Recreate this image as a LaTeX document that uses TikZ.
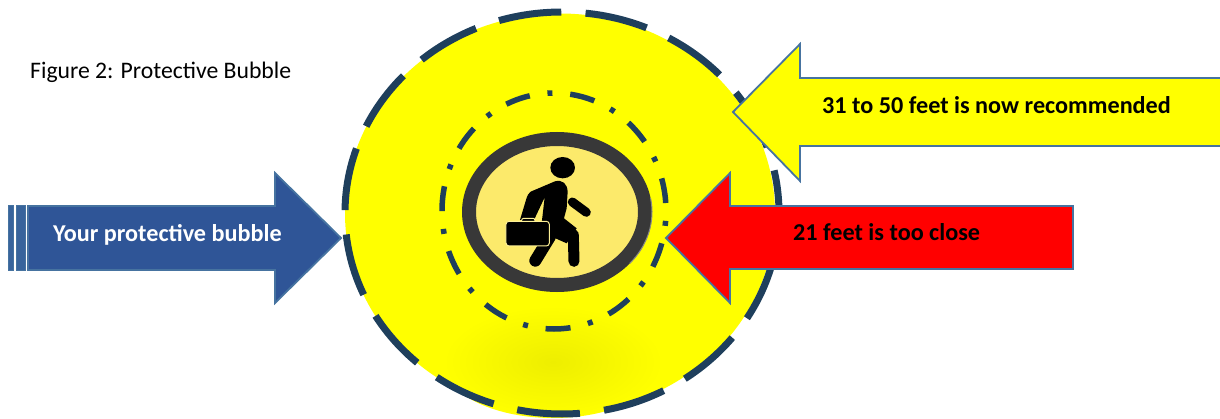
\documentclass[tikz,border=0pt]{standalone}
\usepackage{fontspec}
\setmainfont{Carlito}
\usepackage{tikz}
\definecolor{bubbleyellow}{RGB}{255,255,0}
\definecolor{bubbleglow}{RGB}{238,238,0}
\definecolor{bubbledash}{RGB}{31,63,92}
\definecolor{arrowblue}{RGB}{47,85,151}
\definecolor{arrowedge}{RGB}{70,115,160}
\definecolor{stripeblue}{RGB}{56,100,156}
\definecolor{signring}{RGB}{56,56,56}
\definecolor{signface}{RGB}{252,234,107}
\definecolor{arrowred}{RGB}{255,0,0}
\pgfdeclareradialshading{ringglow}{\pgfpointorigin}{color(0bp)=(bubbleyellow); color(34bp)=(bubbleyellow); color(40bp)=(bubbleglow!60!bubbleyellow); color(50bp)=(bubbleyellow)}
\begin{document}
\begin{tikzpicture}[x=1pt,y=1pt,
  arrowline/.style={draw=arrowedge, line width=1.8pt, miter limit=10},
  stripe/.style={draw=arrowedge, line width=1pt, fill=stripeblue},
  label/.style={font=\fontsize{24.2}{28}\selectfont\bfseries, anchor=base west, inner sep=0pt},
  bigring/.style={draw=bubbledash, line width=7pt, dash pattern=on 63pt off 24.3pt, dash phase=20pt},
  smallring/.style={draw=bubbledash, line width=5.5pt, dash pattern=on 25pt off 17.85pt on 5pt off 17.85pt, dash phase=57.7pt}]
\useasboundingbox (0,0) rectangle (1220,418);
% bubble
\fill[bubbleyellow] (560,204.5) ellipse [x radius=215, y radius=200];
\shade[shading=ringglow] (554,207) ellipse [x radius=150, y radius=150];
\shade[inner color=bubbleglow, outer color=bubbleyellow] (553,56) ellipse [x radius=110, y radius=56];
\draw[bigring] (562,205) ellipse [x radius=217, y radius=201];
\draw[smallring] (554,207) ellipse [x radius=112, y radius=118];
% sign
\draw[signring, line width=14pt, fill=signface] (557,206) ellipse [x radius=88, y radius=73];
\draw[signring!60!white, line width=1pt] (557,206) ++(-40:95 and 80) arc [start angle=-40, end angle=10, x radius=95, y radius=80];
\begin{scope}[shift={(420,338)},x=.3333pt,y=-.3333pt]
\fill[black] (428,263) ellipse [x radius=37, y radius=32];
\fill[black] (332,335) -- (405,304) .. controls (428,298) and (442,312) .. (443,335) -- (440,385) -- (432,415) -- (470,445) -- (440,490) -- (395,470) -- (365,430) -- (374,352) -- (342,420) -- (300,420) -- (318,360) .. controls (322,345) and (326,340) .. (332,335) -- cycle;
\draw[black, line width=11pt, line cap=round, line join=round] (415,430) -- (460,465) -- (462,544);
\draw[black, line width=12pt, line cap=round] (390,470) -- (346,542);
\draw[black, line width=9pt, line cap=round] (457,366) -- (499,397);
\draw[signface!70!white, line width=1pt, fill=black, rounded corners=2pt] (305,428) -- (305,415) -- (345,415) -- (345,428);
\draw[signface!70!white, line width=1pt, fill=black, rounded corners=3pt] (258,424) rectangle (388,498);
\end{scope}
% blue arrow
\draw[stripe] (8,148) rectangle (13.5,212);
\draw[stripe] (16.5,148) rectangle (25,212);
\draw[arrowline, fill=arrowblue] (28,212) -- (275,212) -- (275,245) -- (341,180) -- (275,115) -- (275,148) -- (28,148) -- cycle;
% yellow arrow
\fill[bubbleyellow] (1224,340) -- (800,340) -- (800,374) -- (733,306) -- (800,237) -- (800,272) -- (1224,272) -- cycle;
\draw[arrowline] (1224,340) -- (800,340) -- (800,374) -- (733,306) -- (800,237) -- (800,272) -- (1224,272);
% red arrow
\draw[arrowline, fill=arrowred] (1073,212) -- (730,212) -- (730,245) -- (666,180) -- (730,115) -- (730,149) -- (1073,149) -- cycle;
% texts
\node[font=\fontsize{23.7}{28}\selectfont, anchor=base west, inner sep=0pt] (caption) at (30,339) {Figure 2: Protective Bubble};
\node[label, white] (bubblelabel) at (53,176.5) {Your protective bubble};
\node[label] (farlabel) at (822,304.5) {31 to 50 feet is now recommended};
\node[label] (nearlabel) at (793,177.5) {21 feet is too close};
\end{tikzpicture}
\end{document}
